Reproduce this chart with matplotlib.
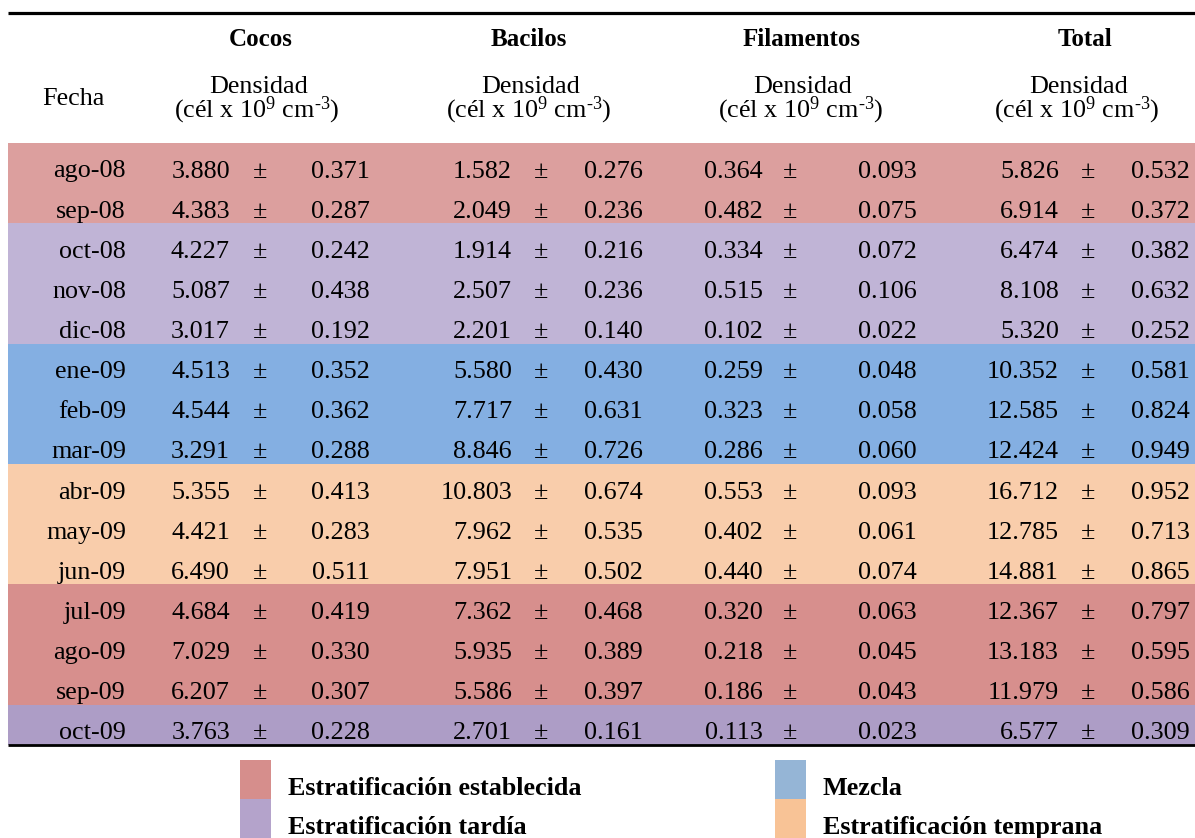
import matplotlib
matplotlib.use("Agg")
import matplotlib.pyplot as plt
from matplotlib.patches import Rectangle

plt.rcParams['font.family'] = ['Liberation Serif', 'DejaVu Serif']
plt.rcParams['mathtext.fontset'] = 'custom'
plt.rcParams['mathtext.rm'] = 'Liberation Serif'
plt.rcParams['mathtext.it'] = 'Liberation Serif:italic'
plt.rcParams['mathtext.bf'] = 'Liberation Serif:bold'

# ---------------- data ----------------
fechas = ["ago-08", "sep-08", "oct-08", "nov-08", "dic-08", "ene-09", "feb-09",
          "mar-09", "abr-09", "may-09", "jun-09", "jul-09", "ago-09", "sep-09", "oct-09"]
cocos = [3.880, 4.383, 4.227, 5.087, 3.017, 4.513, 4.544, 3.291, 5.355, 4.421,
         6.490, 4.684, 7.029, 6.207, 3.763]
cocos_err = [0.371, 0.287, 0.242, 0.438, 0.192, 0.352, 0.362, 0.288, 0.413, 0.283,
             0.511, 0.419, 0.330, 0.307, 0.228]
bacilos = [1.582, 2.049, 1.914, 2.507, 2.201, 5.580, 7.717, 8.846, 10.803, 7.962,
           7.951, 7.362, 5.935, 5.586, 2.701]
bacilos_err = [0.276, 0.236, 0.216, 0.236, 0.140, 0.430, 0.631, 0.726, 0.674, 0.535,
               0.502, 0.468, 0.389, 0.397, 0.161]
filamentos = [0.364, 0.482, 0.334, 0.515, 0.102, 0.259, 0.323, 0.286, 0.553, 0.402,
              0.440, 0.320, 0.218, 0.186, 0.113]
filamentos_err = [0.093, 0.075, 0.072, 0.106, 0.022, 0.048, 0.058, 0.060, 0.093, 0.061,
                  0.074, 0.063, 0.045, 0.043, 0.023]
total = [5.826, 6.914, 6.474, 8.108, 5.320, 10.352, 12.585, 12.424, 16.712, 12.785,
         14.881, 12.367, 13.183, 11.979, 6.577]
total_err = [0.532, 0.372, 0.382, 0.632, 0.252, 0.581, 0.824, 0.949, 0.952, 0.713,
             0.865, 0.797, 0.595, 0.586, 0.309]
column_titles = ["Cocos", "Bacilos", "Filamentos", "Total"]
row_colors = ["#DC9F9E", "#DC9F9E",
              "#C0B4D6", "#C0B4D6", "#C0B4D6",
              "#84AFE2", "#84AFE2", "#84AFE2",
              "#F9CDAB", "#F9CDAB", "#F9CDAB",
              "#D78F8D", "#D78F8D", "#D78F8D",
              "#AD9DC6"]
legend_labels = ["Estratificación establecida", "Estratificación tardía",
                 "Mezcla", "Estratificación temprana"]
legend_colors = ["#D68E8C", "#B4A3CB", "#95B5D6", "#F8C396"]

# ---------------- layout ----------------
W, H = 1195, 838
fig = plt.figure(figsize=(W / 100, H / 100), dpi=100)
ax = fig.add_axes([0, 0, 1, 1])
ax.set_xlim(0, W)
ax.set_ylim(H, 0)
ax.axis('off')

FS = 18.8
LEFT = 8
TOP = 143
BOTTOM = 745
nrows = len(fechas)
ROWH = (BOTTOM - TOP) / nrows

# background bands
centers = [TOP + (i + 0.5) * ROWH for i in range(nrows)]
ax.barh(centers, [W - LEFT] * nrows, left=LEFT, height=ROWH, color=row_colors,
        edgecolor='none', linewidth=0, zorder=0)

# rules
ax.plot([LEFT, W], [13.5, 13.5], color='black', lw=2.3, solid_capstyle='butt', zorder=3)
ax.plot([LEFT, W], [BOTTOM, BOTTOM], color='black', lw=2.0, solid_capstyle='butt', zorder=3)

# header
head_centers = [259, 531, 803, 1079]
title_centers = [261, 529, 802, 1085]
ax.text(73, 99, "Fecha", ha='center', va='center', fontsize=FS)
for hc, tc, t in zip(head_centers, title_centers, column_titles):
    ax.text(tc, 40, t, ha='center', va='center', fontsize=FS - 0.8, fontweight='bold')
    ax.text(hc, 93, "Densidad", ha='center', va='baseline', fontsize=FS)
    ax.text(hc - 2, 117.5, r"(cél x 10$^{9}$ cm$^{\text{-3}}$)", ha='center',
            va='baseline', fontsize=FS)

# body
series = [(cocos, cocos_err), (bacilos, bacilos_err),
          (filamentos, filamentos_err), (total, total_err)]
val_right = [230, 512, 763, 1059]
pm_center = [260, 541, 790, 1088]
err_right = [370, 643, 917, 1190]
for i in range(nrows):
    yb = TOP + i * ROWH + 34.5
    ax.text(126, yb, fechas[i], ha='right', va='baseline', fontsize=FS)
    for k, (vals, errs) in enumerate(series):
        ax.text(val_right[k], yb, f"{vals[i]:.3f}", ha='right', va='baseline', fontsize=FS)
        ax.text(pm_center[k], yb, "±", ha='center', va='baseline', fontsize=FS)
        ax.text(err_right[k], yb, f"{errs[i]:.3f}", ha='right', va='baseline', fontsize=FS)

# legend
leg_x = [240, 240, 775, 775]
leg_y = [760, 799, 760, 799]
for lx, ly, lab, col in zip(leg_x, leg_y, legend_labels, legend_colors):
    ax.add_patch(Rectangle((lx, ly), 31, 39, facecolor=col, edgecolor='none'))
    ax.text(lx + 48, ly + 34.5, lab, ha='left', va='baseline', fontsize=FS,
            fontweight='bold')

fig.savefig("out.png", dpi=100)
